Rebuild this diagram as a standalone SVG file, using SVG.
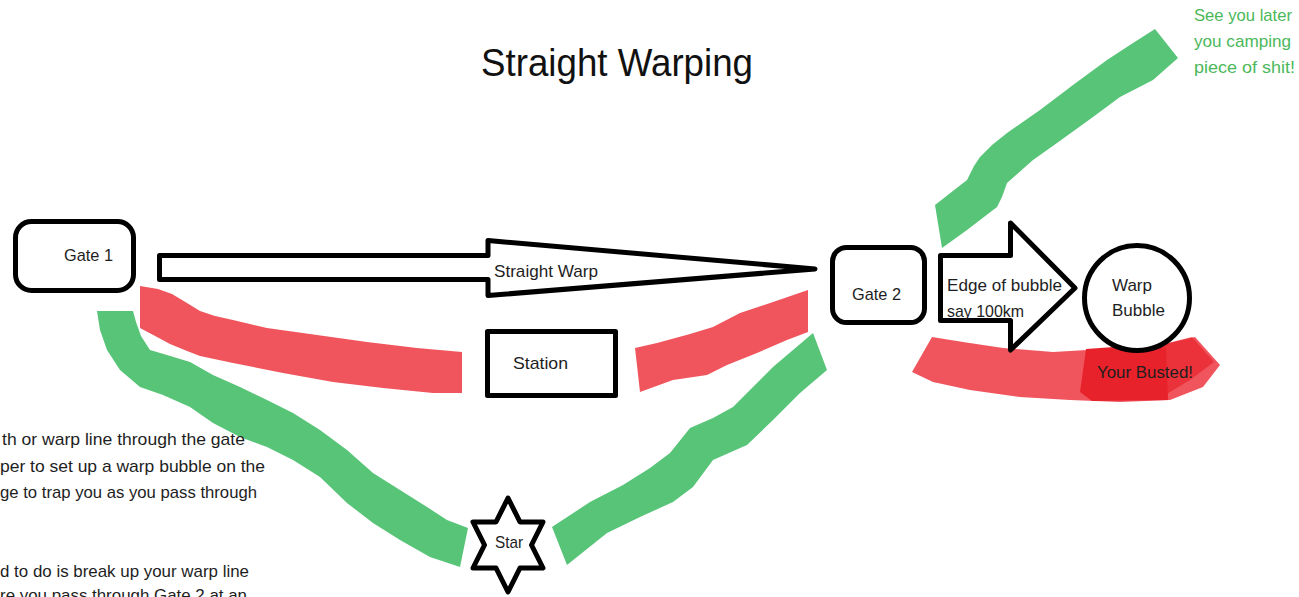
<svg xmlns="http://www.w3.org/2000/svg" width="1299" height="597" viewBox="0 0 1299 597">
<style>
.box{fill:#fff;stroke:#000;stroke-width:5;stroke-linejoin:round}
.t{font-family:"Liberation Sans",Arial,sans-serif;font-size:17px;fill:#1e1e1e}
.green{fill:#58c478}
.red{fill:#f0555d}
.dred{fill:#e8222b}
.gt{font-family:"Liberation Sans",Arial,sans-serif;font-size:17px;fill:#4cb85a}
</style>
<rect width="1299" height="597" fill="#fff"/>
<text x="481" y="76" style="font-family:'Liberation Sans',Arial,sans-serif;font-size:38px;fill:#111" textLength="272" lengthAdjust="spacingAndGlyphs">Straight Warping</text>

<g id="strokes">
<polygon class="red" points="140,286 158,289 172,294 187,303 200,311 215,316 233,320 267,328 317,335 367,342 417,348 462,352 462,393 433,393 383,388 333,382 283,373 233,363 200,356 187,351 170,344 157,337 140,328"/>
<polygon class="red" points="635,348 657,343 690,334 713,327 740,313 773,302 808,290 808,332 787,340 757,353 727,365 707,375 673,380 640,392"/>
<polygon class="green" points="97,311 133,311 136,322 141,336 150,350 167,355 190,362 213,375 240,387 267,400 293,413 320,430 347,450 373,473 400,490 427,507 447,520 468,528 460,567 430,557 400,540 373,523 347,503 320,477 293,460 267,447 240,437 213,423 190,407 163,395 140,387 120,370 107,350 100,330"/>
<polygon class="green" points="552,527 590,502 623,485 650,468 670,453 690,428 713,418 733,407 753,387 773,367 793,350 813,333 827,370 800,393 773,420 747,445 713,460 693,487 673,502 640,517 607,533 567,565"/>
<polygon class="green" points="935,205 958,187 967,180 974,166 980,157 992,145 1007,133 1040,110 1073,85 1107,60 1133,43 1155,29 1178,58 1153,80 1120,97 1093,117 1057,143 1033,160 1007,183 1002,197 997,207 967,230 942,248"/>
<polygon class="red" points="932,337 963,342 1003,348 1053,352 1087,350 1153,347 1195,337 1220,365 1203,387 1170,400 1120,402 1070,400 1020,397 970,390 933,382 912,372"/>
<polygon class="dred" points="1086,349 1128,346 1166,348 1168,400 1092,401 1080,392"/>
<polygon class="dred" opacity="0.7" points="1160,345 1192,337 1214,362 1190,380 1165,395"/>
</g>

<g id="connectors">
<polygon class="box" points="159.5,255.5 488,255.5 488,240.5 815,269 488,295.5 488,279.5 159.5,279.5"/>
<text class="t" x="494" y="277" textLength="104" lengthAdjust="spacingAndGlyphs">Straight Warp</text>
<polygon class="box" points="940.5,255.5 1010.5,255.5 1010.5,223 1075,288 1010.5,350 1010.5,320.5 940.5,320.5"/>
<text class="t" x="947" y="291" textLength="115" lengthAdjust="spacingAndGlyphs">Edge of bubble</text>
<text class="t" x="947" y="317" textLength="77" lengthAdjust="spacingAndGlyphs">say 100km</text>
</g>

<g id="gate1">
<rect class="box" x="15.5" y="221.5" width="118" height="69" rx="16"/>
<text class="t" x="64" y="261" textLength="49" lengthAdjust="spacingAndGlyphs">Gate 1</text>
</g>
<g id="gate2">
<rect class="box" x="832.5" y="247.5" width="92" height="75" rx="14"/>
<text class="t" x="852" y="300" textLength="49" lengthAdjust="spacingAndGlyphs">Gate 2</text>
</g>
<g id="station">
<rect class="box" x="487.5" y="331.5" width="128" height="64" stroke-linejoin="miter"/>
<text class="t" x="513" y="369" textLength="55" lengthAdjust="spacingAndGlyphs">Station</text>
</g>
<g id="warp-bubble">
<circle class="box" cx="1137" cy="298" r="52.5"/>
<text class="t" x="1112" y="291" textLength="40" lengthAdjust="spacingAndGlyphs">Warp</text>
<text class="t" x="1112" y="316" textLength="53" lengthAdjust="spacingAndGlyphs">Bubble</text>
</g>
<g id="star">
<polygon class="box" points="508,498 520,522 543,522 531.5,545 543,568 520,568 508,592 496,568 473,568 484.5,545 473,522 496,522"/>
<text class="t" x="495" y="548" textLength="28" lengthAdjust="spacingAndGlyphs">Star</text>
</g>
<g id="busted">
<text class="t" x="1097" y="378" textLength="96" lengthAdjust="spacingAndGlyphs">Your Busted!</text>
</g>
<g id="taunt">
<text class="gt" x="1194" y="21" textLength="98" lengthAdjust="spacingAndGlyphs">See you later</text>
<text class="gt" x="1194" y="47" textLength="97" lengthAdjust="spacingAndGlyphs">you camping</text>
<text class="gt" x="1194" y="73" textLength="101" lengthAdjust="spacingAndGlyphs">piece of shit!</text>
</g>
<g id="notes">
<text class="t" x="2" y="445" textLength="243" lengthAdjust="spacingAndGlyphs">th or warp line through the gate</text>
<text class="t" x="0" y="472" textLength="265" lengthAdjust="spacingAndGlyphs">per to set up a warp bubble on the</text>
<text class="t" x="0" y="498" textLength="257" lengthAdjust="spacingAndGlyphs">ge to trap you as you pass through</text>
<text class="t" x="0" y="577" textLength="249" lengthAdjust="spacingAndGlyphs">d to do is break up your warp line</text>
<text class="t" x="0" y="601" textLength="247" lengthAdjust="spacingAndGlyphs">re you pass through Gate 2 at an</text>
</g>
</svg>
